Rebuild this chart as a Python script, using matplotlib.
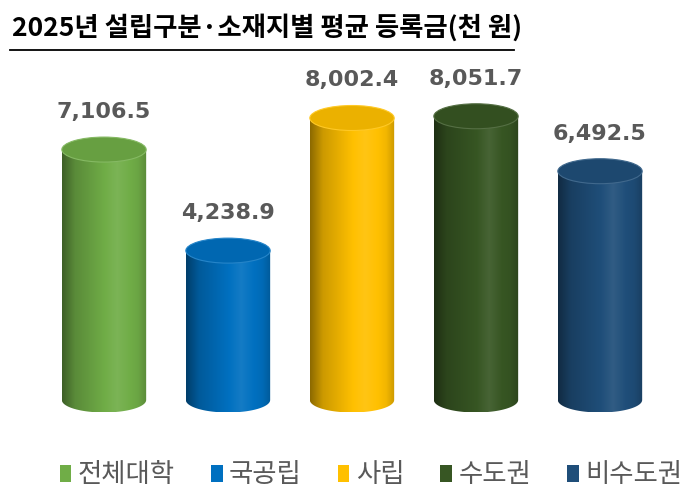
import numpy as np
import matplotlib.pyplot as plt
from matplotlib.patches import Ellipse, Patch
from matplotlib.path import Path
from matplotlib.colors import to_rgb
from matplotlib.lines import Line2D

plt.rcParams['font.family'] = ['Noto Sans CJK KR', 'DejaVu Sans']

categories = ['전체대학', '국공립', '사립', '수도권', '비수도권']
values = [7106.5, 4238.9, 8002.4, 8051.7, 6492.5]
colors = ['#70AD47', '#0070C0', '#FFC000', '#375623', '#1F4E79']
title = '2025년 설립구분·소재지별 평균 등록금(천 원)'

fig = plt.figure(figsize=(7, 5.03), dpi=100)
# zero line at y=400px, top of axes at y=60px, room below for bottom caps
ppu = 282 / 8002.4          # pixels per data unit
bottom_px = 420
ax = fig.add_axes([42 / 700, (503 - bottom_px) / 503, 620 / 700, (bottom_px - 60) / 503])
ax.set_xlim(-0.5, len(values) - 0.5)
ax.set_ylim(-(bottom_px - 400) / ppu, 340 / ppu)
ax.axis('off')

w = 0.68
eh = 25 / ppu  # ellipse height in data units


def shade(c, f):
    c = np.array(to_rgb(c))
    if f < 1:
        return c * f
    return c + (1 - c) * (f - 1)


for i, (v, c) in enumerate(zip(values, colors)):
    x0, x1 = i - w / 2, i + w / 2
    # horizontal gradient for the body
    t = np.linspace(0, 1, 200)
    fac = np.interp(t, [0, 0.15, 0.65, 0.9, 1], [0.55, 0.8, 1.08, 0.95, 0.8])
    grad = np.array([shade(c, f) for f in fac])[None, :, :]
    th = np.linspace(np.pi, 2 * np.pi, 60)
    verts = [(x0, v), (x0, 0)]
    verts += [(i + w / 2 * np.cos(a), eh / 2 * np.sin(a)) for a in th]
    verts += [(x1, v), (x0, v)]
    path = Path(verts)
    im = ax.imshow(grad, extent=(x0, x1, -eh / 2, v), aspect='auto',
                   interpolation='bilinear', zorder=2)
    im.set_clip_path(path, transform=ax.transData)
    top = Ellipse((i, v), w, eh, facecolor=shade(c, 0.92),
                  edgecolor=shade(c, 1.15), lw=0.8, zorder=3)
    ax.add_patch(top)
    ax.annotate(f'{v:,.1f}', (i, v), xytext=(0, 27), textcoords='offset points',
                ha='center', va='center', fontsize=16, fontweight='bold',
                color='#595959', family=['DejaVu Sans'])

fig.text(12 / 700, 1 - 28 / 503, title, fontsize=19, fontweight='bold',
         va='center', ha='left', color='black')
fig.add_artist(Line2D([10 / 700, 514 / 700], [1 - 50 / 503, 1 - 50 / 503],
                      color='black', lw=1.3))

handles = [Patch(facecolor=c) for c in colors]
fig.legend(handles, categories, loc='center', bbox_to_anchor=(0.53, 1 - 475 / 503),
           ncol=5, frameon=False, fontsize=19, handlelength=0.45, handleheight=0.6,
           handletextpad=0.25, columnspacing=1.35, labelcolor='#595959')

fig.savefig('out.png', dpi=100)
